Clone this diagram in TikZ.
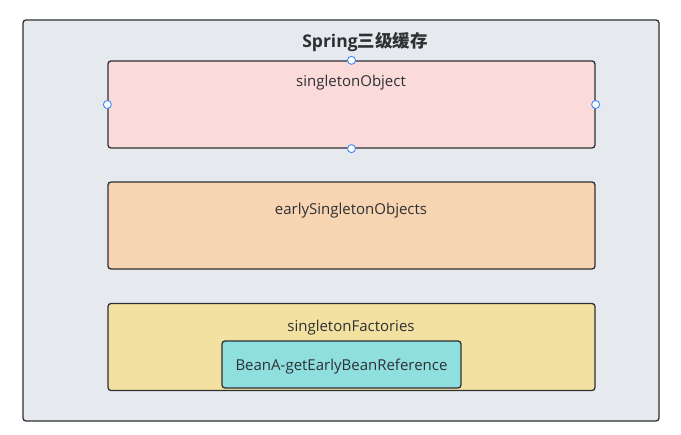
\documentclass[tikz,border=0pt]{standalone}
\usepackage{fontspec}
\setmainfont{Open Sans}
\newfontfamily\cjk{Noto Sans CJK SC}
\usepackage{tikz}
\usetikzlibrary{positioning,calc}
\usepackage{xcolor}
\definecolor{frame}{HTML}{2E3033}
\definecolor{groundbg}{HTML}{E6E9ED}
\definecolor{objfill}{HTML}{FADBD9}
\definecolor{earlyfill}{HTML}{F7D4B2}
\definecolor{factfill}{HTML}{F2E1A1}
\definecolor{beanfill}{HTML}{8FDFDF}
\definecolor{handle}{HTML}{3D8BFF}

\begin{document}
\begin{tikzpicture}[x=1pt, y=-1pt, font=\fontsize{15}{17}\selectfont,
    cachebox/.style={draw=frame, line width=1.3pt, rounded corners=3pt,
      minimum width=487pt, minimum height=87pt, inner sep=0pt},
    handledot/.style={circle, draw=handle, fill=white, line width=0.9pt,
      minimum size=8pt, inner sep=0pt}]
        \useasboundingbox (0,0) rectangle (681,435);
        % outer container
        \node[draw=frame, fill=groundbg, line width=1.3pt, rounded corners=3pt,
          minimum width=636pt, minimum height=401pt, inner sep=0pt]
          (spring) at (341,220.5) {};
        \node[font=\fontsize{17.5}{19}\selectfont\bfseries, text=frame]
          (title) at (365,42) {Spring{\cjk\bfseries 三级缓存}};
        % three levels
        \node[cachebox, fill=objfill] (obj) at (351.5,104.5) {};
        \node[cachebox, fill=earlyfill] (early) at (351.5,225.5) {};
        \node[cachebox, fill=factfill] (fact) at (351.5,347) {};
        \node[text=frame] (objlbl) at (351,82.5) {singletonObject};
        \node[text=frame] (earlylbl) at (351,210.5) {earlySingletonObjects};
        \node[text=frame] (factlbl) at (351,327.5) {singletonFactories};
        \node[draw=frame, fill=beanfill, line width=1.3pt, rounded corners=3pt,
          minimum width=239pt, minimum height=47pt, inner sep=0pt]
          (bean) at (341.5,364.5) {};
        \node[text=frame] (beanlbl) at (341.5,367) {BeanA-getEarlyBeanReference};
        % selection handles
        \foreach \a in {north,south,west,east}
          \node[handledot] at (obj.\a) {};
      \end{tikzpicture}
\end{document}
